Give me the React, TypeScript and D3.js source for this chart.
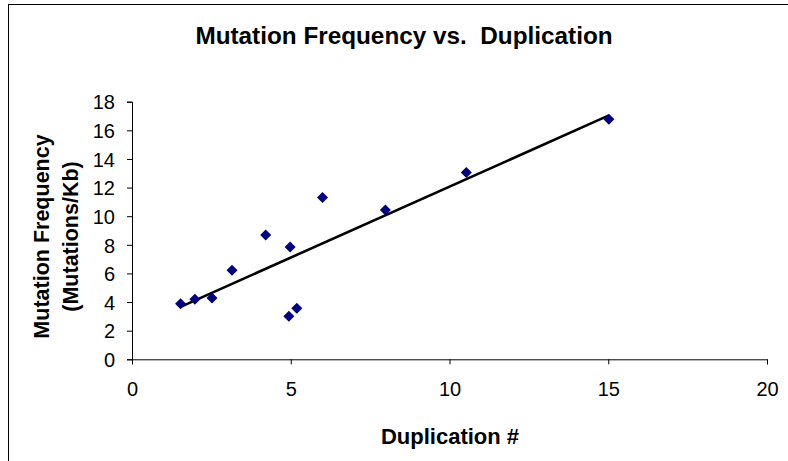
import React, { useEffect, useRef } from 'react';
import * as d3 from 'd3';

// Duplication # vs mutation frequency (Mutations/Kb)
const duplication = [1.53, 1.98, 2.52, 3.15, 4.21, 4.98, 4.94, 5.19, 6.0, 7.98, 10.53, 15.02];
const mutationFreq = [3.89, 4.19, 4.29, 6.22, 8.69, 7.85, 3.0, 3.56, 11.3, 10.44, 13.05, 16.78];
const xTicks = [0, 5, 10, 15, 20];
const yTicks = [0, 2, 4, 6, 8, 10, 12, 14, 16, 18];

const W = 788;
const H = 461;

export default function App() {
  const svgRef = useRef<SVGSVGElement>(null);

  useEffect(() => {
    const svg = d3.select(svgRef.current);
    svg.selectAll('*').remove();

    const font = 'Arial, "Liberation Sans", sans-serif';
    const data = duplication.map((d, i) => ({ x: d, y: mutationFreq[i] }));

    // outer chart frame (right and bottom edges fall outside the picture)
    svg.append('rect')
      .attr('x', 8.5).attr('y', 4.5)
      .attr('width', W + 20).attr('height', H + 20)
      .attr('fill', '#fff').attr('stroke', '#000').attr('stroke-width', 1);

    const x = d3.scaleLinear().domain([0, 20]).range([132, 767]);
    const y = d3.scaleLinear().domain([0, 18]).range([359.3, 101.7]);

    // axes
    const xAxis = svg.append('g')
      .attr('transform', `translate(0,${y(0)})`)
      .call(d3.axisBottom(x).tickValues(xTicks).tickSize(5).tickPadding(18).tickSizeOuter(5));
    const yAxis = svg.append('g')
      .attr('transform', `translate(${x(0)},0)`)
      .call(d3.axisLeft(y).tickValues(yTicks).tickSize(5).tickPadding(12).tickSizeOuter(5));

    [xAxis, yAxis].forEach(g => {
      g.select('.domain').attr('stroke', '#000').attr('stroke-width', 1);
      g.selectAll('.tick line').attr('stroke', '#000');
      g.selectAll('.tick text')
        .attr('fill', '#000')
        .attr('font-family', font)
        .attr('font-size', 20);
    });
    yAxis.selectAll('.tick text').attr('dy', '0.36em');

    // linear trendline (least squares)
    const mx = d3.mean(duplication) as number;
    const my = d3.mean(mutationFreq) as number;
    const slope = d3.sum(data, d => (d.x - mx) * (d.y - my)) / d3.sum(data, d => (d.x - mx) ** 2);
    const icept = my - slope * mx;
    const [x0, x1] = d3.extent(duplication) as [number, number];
    svg.append('path')
      .datum([x0, x1])
      .attr('d', d3.line<number>().x(d => x(d)).y(d => y(icept + slope * d)))
      .attr('stroke', '#000')
      .attr('stroke-width', 2.6)
      .attr('fill', 'none');

    // diamond markers
    svg.append('g')
      .selectAll('path')
      .data(data)
      .enter()
      .append('path')
      .attr('transform', d => `translate(${x(d.x)},${y(d.y)})`)
      .attr('d', 'M0,-5.5L5.5,0L0,5.5L-5.5,0Z')
      .attr('fill', '#000080');

    // title
    svg.append('text')
      .attr('x', 404).attr('y', 44)
      .attr('text-anchor', 'middle')
      .attr('font-family', font).attr('font-weight', 'bold').attr('font-size', 24.3)
      .attr('xml:space', 'preserve')
      .text('Mutation Frequency vs.  Duplication');

    // x label
    svg.append('text')
      .attr('x', 450).attr('y', 444)
      .attr('text-anchor', 'middle')
      .attr('font-family', font).attr('font-weight', 'bold').attr('font-size', 22)
      .text('Duplication #');

    // y label (two lines)
    const yl = svg.append('text')
      .attr('transform', 'translate(48.5,236.5) rotate(-90)')
      .attr('text-anchor', 'middle')
      .attr('font-family', font).attr('font-weight', 'bold').attr('font-size', 21.5);
    yl.append('tspan').attr('x', 0).attr('y', 0).text('Mutation Frequency');
    yl.append('tspan').attr('x', 0).attr('y', 29).text('(Mutations/Kb)');
  }, []);

  return (
    <svg
      ref={svgRef}
      width={W}
      height={H}
      style={{ position: 'absolute', left: 0, top: 0, background: '#fff' }}
    />
  );
}
